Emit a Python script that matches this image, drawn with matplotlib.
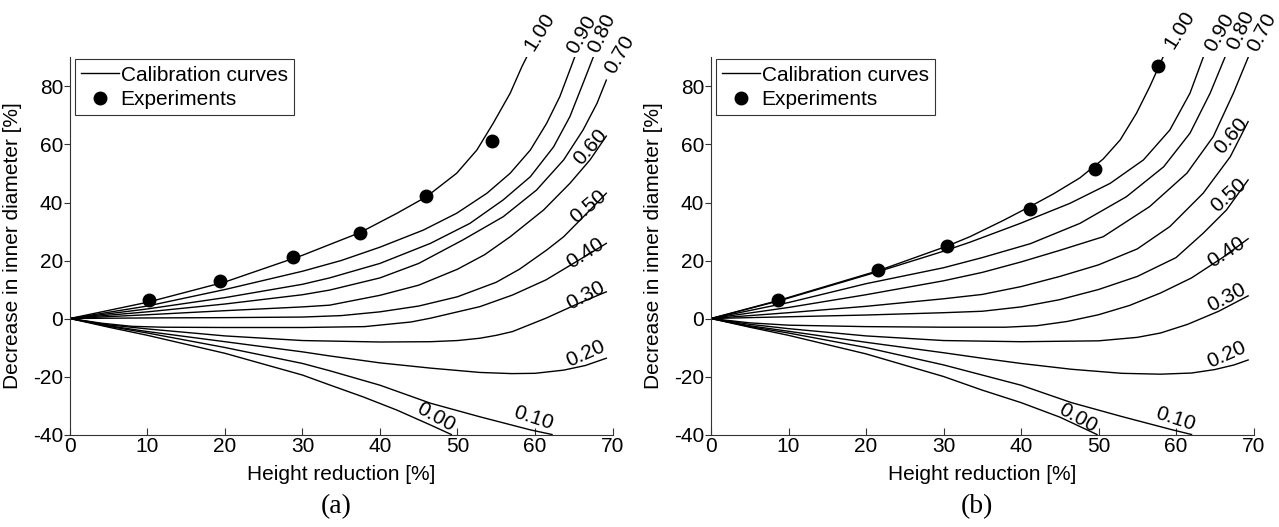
import numpy as np
import matplotlib.pyplot as plt

plt.rcParams['font.family'] = ['Liberation Sans', 'DejaVu Sans']
plt.rcParams['axes.unicode_minus'] = False

# ratio of each calibration curve
ratios = ['1.00', '0.90', '0.80', '0.70', '0.60', '0.50', '0.40', '0.30', '0.20', '0.10', '0.00']

# ---- panel (a): calibration curves (height reduction %, decrease in inner diameter %)
a_100 = [(0, 0), (10, 5.6), (20, 12.6), (30, 21.8), (33.5, 25.5), (37.4, 29.6), (42.2, 36.3), (46, 42),
         (49.9, 50.1), (52.5, 58.1), (54.6, 67.3), (56.8, 77.7), (58.3, 86.8), (58.9, 90)]
a_090 = [(0, 0), (10, 4.3), (20, 10), (30, 16.3), (35, 20), (40, 24.6), (45.6, 30.5), (49.9, 36.3),
         (53.8, 43.2), (56.8, 50.1), (59.4, 58.1), (61.5, 67.3), (63.2, 76.5), (64.5, 85.7), (65.1, 90)]
a_080 = [(0, 0), (10, 3.3), (20, 7.2), (30, 11.8), (33.5, 14), (40, 19), (46.5, 25.9), (51.6, 32.8),
         (55.9, 40.9), (59.4, 48.9), (62.4, 59.2), (64.5, 69.6), (66.2, 81.1), (67.5, 90)]
a_070 = [(0, 0), (10, 2.3), (20, 5), (30, 8.2), (33.5, 9.8), (40, 14), (45, 19), (50.7, 27.1),
         (55.9, 35.1), (60.2, 44.3), (63.7, 54.7), (66.2, 65), (68, 74.2), (69.2, 82.2)]
a_060 = [(0, 0), (10, 1.3), (20, 2.7), (30, 4), (33.5, 4.6), (40, 8), (45, 11.5), (50, 17), (53.5, 22),
         (56.8, 28.2), (61.1, 37.4), (64.5, 46.6), (67.1, 54.7), (69.2, 62.9)]
a_050 = [(0, 0), (10, 0.2), (20, 0.3), (30, 0.5), (35, 1), (40, 2.3), (45, 4.3), (50, 7.5), (55, 12.5),
         (58, 17), (61.5, 23.6), (63.7, 28.2), (67.1, 37.4), (69.2, 43.2)]
a_040 = [(0, 0), (4, -1.6), (8, -2.7), (12, -3), (20, -3.1), (30, -3.1), (38, -2.8), (44, -1.2),
         (46.5, 0.1), (52.9, 4.1), (57.1, 8.1), (61.4, 13.3), (65.7, 20.2), (69.2, 25.9)]
a_030 = [(0, 0), (5, -2.2), (10, -3.6), (20, -6), (30, -7.6), (40, -8.1), (46.5, -8), (50, -7.6),
         (52.9, -6.8), (55, -5.8), (57.1, -4.5), (61.4, 0.1), (65.7, 5.3), (69.2, 9.2)]
a_020 = [(0, 0), (5, -2.5), (10, -4.5), (20, -8), (30, -11.5), (33.5, -12.9), (40, -15.3), (46.5, -17.1),
         (52.9, -18.6), (57, -19), (60, -18.9), (63.7, -17.8), (66.5, -16.2), (69.2, -13.7)]
a_010 = [(0, 0), (5, -2.7), (10, -5), (20, -10), (30, -15.5), (33.5, -18), (40, -23), (46.5, -29.2),
         (52.9, -33.9), (59.4, -38.4), (62.2, -40)]
a_000 = [(0, 0), (5, -3), (10, -5.8), (20, -12), (30, -19.5), (33.5, -22.9), (37.8, -27), (42.2, -31.6),
         (46.5, -36.7), (49.2, -40)]
a_exp_x = [10.2, 19.3, 28.8, 37.4, 46.0, 54.5]
a_exp_y = [6.4, 13.1, 21.2, 29.6, 42.2, 61.3]

# ---- panel (b)
b_100 = [(0, 0), (8.8, 6.3), (21.6, 16.5), (30.5, 25), (33.4, 28.2), (37.7, 33.8), (41.3, 38.8),
         (44.2, 43), (47.6, 48.5), (50.6, 55), (52.8, 61.6), (54.9, 70.8), (56.6, 79.9), (57.8, 87),
         (58.3, 90)]
b_090 = [(0, 0), (8.8, 6.1), (21.6, 16.2), (30, 23.2), (33.4, 26.3), (39.9, 32.8), (46.3, 39.7),
         (51.5, 46.6), (55.8, 54.7), (59.2, 65), (61.8, 77.7), (63.5, 90)]
b_080 = [(0, 0), (10, 5.5), (20, 12), (30, 17.5), (35, 21), (41.2, 25.8), (47.6, 32.8), (53.6, 42),
         (58.4, 52.3), (61.8, 63.9), (64.4, 77.7), (66.3, 90)]
b_070 = [(0, 0), (10, 3.8), (20, 8.2), (30, 13), (35, 15.9), (40, 19.5), (45, 23.5), (50.6, 28.2),
         (56.6, 38.6), (61.4, 50.1), (64.8, 62.7), (67.4, 77.7), (69.3, 90)]
b_060 = [(0, 0), (10, 2), (20, 4.2), (30, 6.8), (35, 8.3), (40, 11), (45, 14.5), (50, 18.5), (55, 24),
         (59.2, 31.7), (63.5, 43.2), (67, 55.8), (69.3, 67.9)]
b_050 = [(0, 0), (10, 0.6), (20, 1.2), (30, 2), (35, 2.5), (40, 4), (45, 6.5), (50, 10), (55, 14.5),
         (60, 21), (63.5, 29.4), (66.5, 37.4), (69.3, 47.8)]
b_040 = [(0, 0), (5, -1.5), (10, -2.3), (20, -2.8), (30, -3), (38, -3), (42, -2.5), (46, -1), (50, 1.3),
         (54, 4.5), (58, 8.8), (62, 14), (66, 21), (69.3, 27.5)]
b_030 = [(0, 0), (5, -2), (10, -3.5), (20, -6), (30, -7.6), (40, -8), (50, -7.7), (55, -6.5), (58, -5),
         (61.5, -2), (65.5, 2.5), (69.3, 7.8)]
b_020 = [(0, 0), (5, -2.5), (10, -4.4), (20, -8.2), (30, -11.8), (35, -13.7), (40, -15.5), (46.5, -17.5),
         (53, -18.9), (58, -19.2), (62, -18.8), (65, -17.6), (67.5, -16), (69.3, -14.3)]
b_010 = [(0, 0), (5, -2.8), (10, -5), (20, -10), (30, -16), (35, -19.5), (40, -23), (46.5, -29),
         (53, -33.8), (59.4, -38.3), (62, -40)]
b_000 = [(0, 0), (5, -3), (10, -5.8), (20, -12.2), (30, -20), (35, -24.7), (40, -29), (45, -34),
         (49.8, -40)]
b_exp_x = [8.7, 21.6, 30.4, 41.1, 49.6, 57.7]
b_exp_y = [6.5, 16.8, 25.1, 37.9, 51.6, 87.0]

curves_a = [a_100, a_090, a_080, a_070, a_060, a_050, a_040, a_030, a_020, a_010, a_000]
curves_b = [b_100, b_090, b_080, b_070, b_060, b_050, b_040, b_030, b_020, b_010, b_000]

# label placement (x, y, rotation) per ratio
lab_a = [(60.6, 99.0, 58), (66.0, 98.0, 60), (68.6, 98.5, 65), (70.9, 91.0, 60), (67.1, 59.0, 49),
         (66.9, 38.6, 40), (66.5, 22.5, 33), (66.5, 7.8, 28), (66.5, -12.0, 24), (59.8, -34.4, -18),
         (47.2, -34.1, -29)]
lab_b = [(60.5, 99.5, 58), (65.6, 98.5, 60), (68.4, 99.5, 65), (71.1, 98.5, 62), (67.1, 62.9, 50),
         (66.8, 42.6, 42), (66.5, 23.0, 33), (66.5, 7.3, 28), (66.5, -12.6, 24), (59.9, -34.7, -18),
         (47.3, -34.4, -29)]

FS = 15

fig = plt.figure(figsize=(12.79, 5.27), dpi=100)
axA = fig.add_axes([0.0547, 0.1755, 0.4242, 0.7154])
axB = fig.add_axes([0.5559, 0.1755, 0.4242, 0.7154])

for ax, curves, labs, ex, ey, tag in [(axA, curves_a, lab_a, a_exp_x, a_exp_y, '(a)'),
                                      (axB, curves_b, lab_b, b_exp_x, b_exp_y, '(b)')]:
    for i, c in enumerate(curves):
        xs, ys = zip(*c)
        ax.plot(xs, ys, '-', color='k', lw=1.0,
                label='Calibration curves' if i == 0 else None)
    ax.plot(ex, ey, 'o', color='k', ms=9, ls='none', label='Experiments')
    for r, (lx, ly, rot) in zip(ratios, labs):
        ax.text(lx, ly, r, fontsize=FS, rotation=rot, ha='center', va='center',
                rotation_mode='anchor', clip_on=False)

    ax.set_xlim(0, 70)
    ax.set_ylim(-40, 90)
    ax.set_xticks(np.arange(0, 71, 10))
    ax.set_yticks(np.arange(-40, 81, 20))
    ax.spines['top'].set_visible(False)
    ax.spines['right'].set_visible(False)
    for s in ('left', 'bottom'):
        ax.spines[s].set_linewidth(0.8)
        ax.spines[s].set_color('#333333')
    ax.tick_params(axis='x', direction='in', length=5, width=0.8, labelsize=FS, pad=2, color='#333333')
    ax.tick_params(axis='y', direction='out', length=4, width=0.8, labelsize=FS, pad=1, color='#333333')
    ax.set_xlabel('Height reduction [%]', fontsize=FS)
    ax.set_ylabel('Decrease in inner diameter [%]', fontsize=FS)
    ax.xaxis.set_label_coords(0.5, -0.08)
    ax.yaxis.set_label_coords(-0.088, 0.5)

    leg = ax.legend(loc='upper left', bbox_to_anchor=(0.009, 0.995), borderaxespad=0,
                    fontsize=FS, frameon=True, fancybox=False, handlelength=1.8,
                    handletextpad=0.1, borderpad=0.3, labelspacing=0.25)
    leg.get_frame().set_edgecolor('k')
    leg.get_frame().set_linewidth(0.8)

    pos = ax.get_position()
    fig.text(pos.x0 + pos.width * 0.49, 0.038, tag, fontsize=20, family='Liberation Serif',
             ha='center', va='center')

fig.savefig('out.png', dpi=100)
